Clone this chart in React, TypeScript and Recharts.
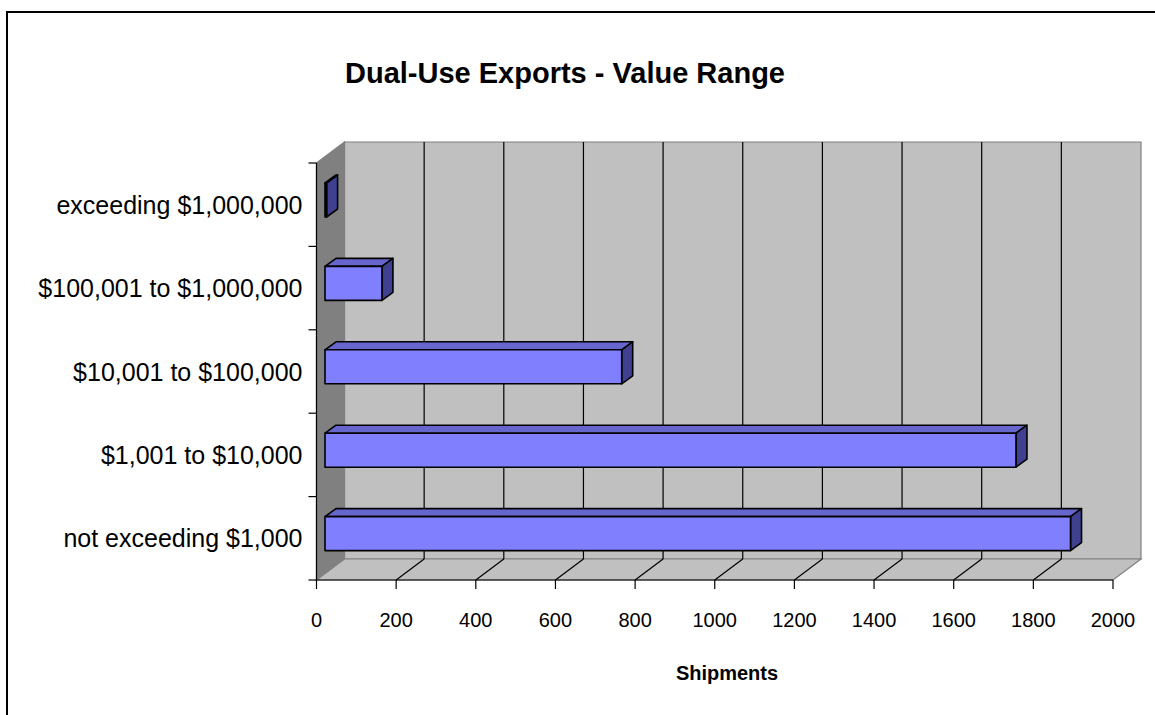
import React from 'react';
import { BarChart, Bar, XAxis, YAxis, CartesianGrid } from 'recharts';

// ---- data ----
const categories: string[] = [
  'exceeding $1,000,000',
  '$100,001 to $1,000,000',
  '$10,001 to $100,000',
  '$1,001 to $10,000',
  'not exceeding $1,000',
];
const shipments: number[] = [4, 143, 745, 1735, 1872];
const xTicks: number[] = [0, 200, 400, 600, 800, 1000, 1200, 1400, 1600, 1800, 2000];
const xDomain: [number, number] = [0, 2000];
const chartTitle = 'Dual-Use Exports - Value Range';
const xAxisTitle = 'Shipments';

const data = categories.map((name, i) => ({ name, shipments: shipments[i] }));

// ---- layout ----
const W = 1155;
const H = 715;
const PLOT = { left: 316.5, top: 163, right: 1113, bottom: 580 };
const DEPTH = { dx: 28, dy: -21 };
const BAR_OFF = { dx: 8.5, dy: -5 };
const BAR_DEPTH = { dx: 11, dy: -8 };
const FONT = '"Liberation Sans", Arial, Helvetica, sans-serif';
const BAND = (PLOT.bottom - PLOT.top) / categories.length;

const Bar3D = (props: any) => {
  const { x, y, width, height } = props;
  if (x == null || y == null) return null;
  const fx = x + BAR_OFF.dx;
  const fy = y + BAR_OFF.dy;
  const w = Math.max(width || 0, 0);
  const { dx, dy } = BAR_DEPTH;
  return (
    <g stroke="#000" strokeWidth={1.6} strokeLinejoin="round">
      <polygon
        points={`${fx},${fy} ${fx + dx},${fy + dy} ${fx + w + dx},${fy + dy} ${fx + w},${fy}`}
        fill="#6666CC"
      />
      <polygon
        points={`${fx + w},${fy} ${fx + w + dx},${fy + dy} ${fx + w + dx},${fy + height + dy} ${fx + w},${fy + height}`}
        fill="#404090"
      />
      <rect x={fx} y={fy} width={w} height={height} fill="#8080FF" />
    </g>
  );
};

const CatTick = (props: any) => {
  const { payload, index, visibleTicksCount } = props;
  const y = payload.coordinate;
  const ax = PLOT.left;
  const isLast = index === (visibleTicksCount ?? categories.length) - 1;
  return (
    <g>
      <line x1={ax - 8} x2={ax} y1={y - BAND / 2} y2={y - BAND / 2} stroke="#000" strokeWidth={1.2} />
      {isLast && (
        <line x1={ax - 8} x2={ax} y1={y + BAND / 2} y2={y + BAND / 2} stroke="#000" strokeWidth={1.2} />
      )}
      <text
        x={ax - 14}
        y={y}
        textAnchor="end"
        dominantBaseline="central"
        fontSize={25}
        fontFamily={FONT}
        fill="#000"
      >
        {payload.value}
      </text>
    </g>
  );
};

const GridLine = (props: any) => {
  const { x1, y1, y2 } = props;
  const i = props.index;
  if (i === 0 || i === xTicks.length - 1) return <g key={props.key} />;
  return (
    <g key={props.key}>
      <line x1={x1 + DEPTH.dx} x2={x1 + DEPTH.dx} y1={y1 + DEPTH.dy} y2={y2 + DEPTH.dy} stroke="#000" strokeWidth={1.2} />
      <line x1={x1} y1={y2} x2={x1 + DEPTH.dx} y2={y2 + DEPTH.dy} stroke="#000" strokeWidth={1.2} />
    </g>
  );
};

const Walls = () => {
  const { left: l, top: t, right: r, bottom: b } = PLOT;
  const { dx, dy } = DEPTH;
  return (
    <svg width={W} height={H} style={{ position: 'absolute', left: 0, top: 0 }}>
      <polygon
        points={`${l + dx},${t + dy} ${r + dx},${t + dy} ${r + dx},${b + dy} ${l + dx},${b + dy}`}
        fill="#C0C0C0"
        stroke="#808080"
        strokeWidth={1.2}
      />
      <polygon
        points={`${l},${t} ${l + dx},${t + dy} ${l + dx},${b + dy} ${l},${b}`}
        fill="#808080"
        stroke="#808080"
        strokeWidth={1.2}
      />
      <polygon
        points={`${l},${b} ${r},${b} ${r + dx},${b + dy} ${l + dx},${b + dy}`}
        fill="#C0C0C0"
        stroke="#808080"
        strokeWidth={1.2}
      />
    </svg>
  );
};

export default function App() {
  return (
    <div
      style={{
        position: 'absolute',
        left: 0,
        top: 0,
        width: W,
        height: H,
        overflow: 'hidden',
        background: '#fff',
        fontFamily: FONT,
      }}
    >
      <div
        style={{
          position: 'absolute',
          left: 6,
          top: 11,
          width: 1300,
          height: 900,
          border: '2px solid #000',
          boxSizing: 'border-box',
        }}
      />
      <Walls />
      <div style={{ position: 'absolute', left: 0, top: 0 }}>
        <BarChart
          width={W}
          height={H}
          data={data}
          layout="vertical"
          margin={{ top: PLOT.top, right: W - PLOT.right, bottom: H - PLOT.bottom - 40, left: PLOT.left - 300 }}
          barSize={34}
        >
          <CartesianGrid horizontal={false} vertical={GridLine as any} stroke="#000" />
          <XAxis
            type="number"
            domain={xDomain}
            ticks={xTicks}
            interval={0}
            height={40}
            tickSize={9}
            tickMargin={24}
            axisLine={{ stroke: '#000', strokeWidth: 1.2 }}
            tickLine={{ stroke: '#000', strokeWidth: 1.2 }}
            tick={{ fill: '#000', fontSize: 20, fontFamily: FONT }}
          />
          <YAxis
            type="category"
            dataKey="name"
            width={300}
            interval={0}
            tickLine={false}
            axisLine={{ stroke: '#000', strokeWidth: 1.2 }}
            tick={<CatTick />}
          />
          <Bar dataKey="shipments" shape={<Bar3D />} isAnimationActive={false} />
          <text x={565} y={83} textAnchor="middle" fontSize={29} fontWeight="bold" fontFamily={FONT} fill="#000">
            {chartTitle}
          </text>
          <text x={727} y={680} textAnchor="middle" fontSize={20} fontWeight="bold" fontFamily={FONT} fill="#000">
            {xAxisTitle}
          </text>
        </BarChart>
      </div>
    </div>
  );
}
